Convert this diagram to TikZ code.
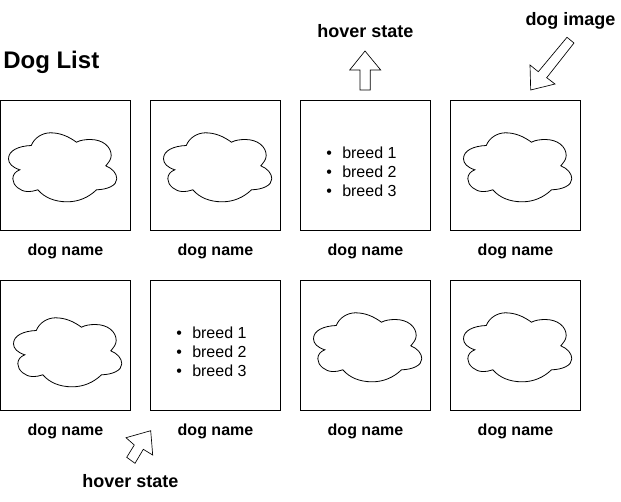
\documentclass[tikz,border=0pt]{standalone}
\usepackage{fontspec}
\setmainfont{Liberation Sans}
\tikzset{
  cardbox/.style={draw, line width=0.75pt, minimum size=97.5pt, inner sep=0pt, outer sep=0pt, anchor=north west},
  dogname/.style={font=\fontsize{12}{14}\selectfont\bfseries, inner sep=0pt},
  callout/.style={font=\fontsize{13.5}{16}\selectfont\bfseries, inner sep=0pt},
  breedlist/.style={font=\fontsize{12}{14.25}\selectfont, align=left, inner sep=0pt, anchor=west},
  blockarrow/.style={draw, line width=0.5pt, line join=miter},
  cloudline/.style={draw, line width=0.6pt},
  pics/dogcloud/.style={code={
    \draw[cloudline] (30.7,45) .. controls (34,37) and (42,32.3) .. (50,32.3)
      .. controls (60,32.3) and (68,36) .. (76,41.7)
      .. controls (80,39.5) and (85,39) .. (90,39) .. controls (102,39) and (110.7,46) .. (110.7,55)
      .. controls (110.7,59) and (108,62) .. (105.3,65.3)
      .. controls (112,68) and (116.3,73) .. (116.3,78.3) .. controls (116.3,85) and (107,89) .. (96,89.3)
      .. controls (88,97) and (78,101.3) .. (66.7,101.3) .. controls (54,101.3) and (44,97) .. (37.3,89.3)
      .. controls (34,90.5) and (31,91) .. (27,91) .. controls (20,91) and (12.3,85) .. (12.3,78.3)
      .. controls (12.3,74) and (15,71) .. (19.3,69.3)
      .. controls (12,67) and (8,63) .. (8,58.3) .. controls (8,50) and (18,45.5) .. (30.7,45) -- cycle;
  }}
}
\newcommand{\breeds}{\makebox[12pt][l]{\textbullet}breed 1\\\makebox[12pt][l]{\textbullet}breed 2\\\makebox[12pt][l]{\textbullet}breed 3}
\begin{document}
\begin{tikzpicture}[x=0.75pt,y=-0.75pt]
  \useasboundingbox (0,0) rectangle (621,501);
  \node[font=\fontsize{18}{20}\selectfont\bfseries, anchor=base west, inner sep=0pt] (title) at (3,68) {Dog List};
  % cards
  \foreach \row/\ypos/\ylab in {1/100.5/251, 2/280.5/431} {
    \foreach \col/\xpos in {1/0.5, 2/150.5, 3/300.5, 4/450.5} {
      \node[cardbox] (card\row\col) at (\xpos,\ypos) {};
      \node[dogname] (name\row\col) at (\xpos+65,\ylab) {dog name};
    }
  }
  % clouds
  \pic at (0.5,100.5) {dogcloud};
  \pic at (155.5,100.5) {dogcloud};
  \pic at (455.5,100.5) {dogcloud};
  \pic at (5.5,285.5) {dogcloud};
  \pic at (305.5,280.5) {dogcloud};
  \pic at (455.5,280.5) {dogcloud};
  % breed lists
  \node[breedlist] (breedsa) at (326,172) {\breeds};
  \node[breedlist] (breedsb) at (176,352) {\breeds};
  % callouts
  \node[callout] (hovertop) at (365.5,31) {hover state};
  \node[callout] (dogimage) at (570.5,21) {dog image};
  \node[callout] (hoverbottom) at (130.5,481) {hover state};
  \draw[blockarrow] (365,51) -- (380.7,70) -- (370.3,70) -- (370.3,90) -- (360,90) -- (360,70) -- (349.7,70) -- cycle;
  \draw[blockarrow] (530.7,90) -- (530,65) -- (538.3,71.7) -- (567,37.3) -- (574,43) -- (546.7,77.7) -- (555,84) -- cycle;
  \draw[blockarrow] (150.7,430.7) -- (126,437.7) -- (134.3,445) -- (126.7,457.3) -- (135,463.3) -- (143.3,449.3) -- (152.7,455) -- cycle;
\end{tikzpicture}
\end{document}
